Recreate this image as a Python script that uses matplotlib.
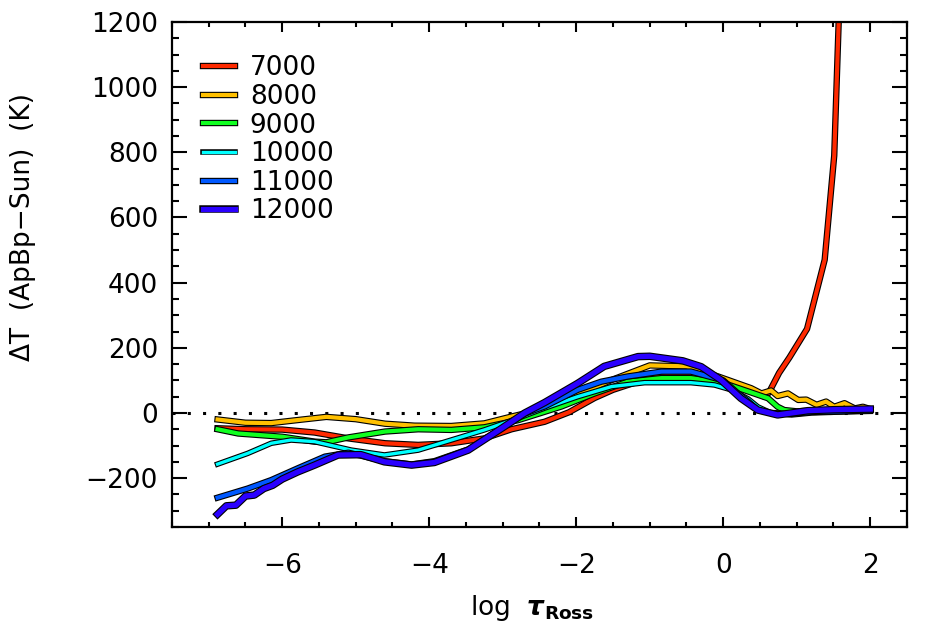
import numpy as np
import matplotlib
matplotlib.use("Agg")
import matplotlib.pyplot as plt
import matplotlib.patheffects as pe
from matplotlib.ticker import MultipleLocator

plt.rcParams['font.family'] = ['DejaVu Sans']
plt.rcParams['mathtext.fontset'] = 'dejavusans'

# T_eff labels of the models
labels = ['7000', '8000', '9000', '10000', '11000', '12000']
colors = ['#ff2a00', '#ffc000', '#10ff20', '#00ffff', '#0058ff', '#2a00ff']
widths = [3.0, 3.0, 3.0, 2.4, 3.0, 3.8]

# log tau_Ross and Delta T (K)
x7000 = [-6.88, -6.5, -6.0, -5.56, -5.1, -4.6, -4.15, -3.7, -3.25, -2.88, -2.43, -2.1,
         -1.75, -1.5, -1.0, -0.5, 0.0, 0.3, 0.56, 0.62, 0.76, 0.9, 1.14, 1.38, 1.51, 1.6]
y7000 = [-47, -50, -51, -60, -78, -93, -98, -93, -78, -50, -27, 2,
         46, 71, 108, 120, 98, 75, 50, 62, 123, 170, 258, 470, 790, 1400]

x8000 = [-6.88, -6.5, -6.15, -5.8, -5.4, -5.0, -4.6, -4.2, -3.7, -3.25, -2.88, -2.6,
         -2.0, -1.5, -1.0, -0.5, -0.07, 0.38, 0.52, 0.65, 0.74, 0.88, 1.02, 1.13,
         1.27, 1.40, 1.51, 1.65, 1.79, 1.90, 2.0]
y8000 = [-20, -30, -31, -22, -12, -19, -33, -39, -40, -32, -11, 4,
         55, 103, 146, 143, 112, 76, 60, 69, 52, 60, 40, 41,
         25, 35, 19, 30, 14, 19, 12]

x9000 = [-6.88, -6.6, -6.0, -5.56, -5.4, -5.1, -4.6, -4.15, -3.7, -3.25, -2.79, -2.2,
         -1.75, -1.3, -0.84, -0.44, 0.0, 0.34, 0.61, 0.74, 0.83, 1.0, 1.3, 1.6, 2.0]
y9000 = [-50, -63, -73, -88, -90, -75, -57, -50, -52, -44, -22, 20,
         60, 96, 107, 107, 92, 66, 45, 19, 9, 5, 8, 6, 10]

x10000 = [-6.88, -6.47, -6.15, -5.88, -5.56, -5.06, -4.61, -4.15, -3.7, -3.25, -2.79,
          -2.43, -1.98, -1.52, -1.07, -0.44, -0.12, 0.11, 0.34, 0.47, 0.65, 0.93,
          1.2, 1.6, 2.0]
y10000 = [-157, -124, -93, -83, -88, -114, -129, -114, -83, -52, -16,
          15, 50, 81, 93, 93, 86, 71, 43, 19, 0, -6,
          0, 3, 5]

x11000 = [-6.88, -6.47, -6.15, -5.79, -5.42, -5.1, -4.61, -4.24, -3.93, -3.47, -3.02,
          -2.7, -2.43, -1.98, -1.66, -1.3, -0.84, -0.44, 0.0, 0.2, 0.34, 0.47, 0.65,
          0.9, 1.2, 1.6, 2.0]
y11000 = [-260, -232, -206, -170, -134, -122, -148, -158, -148, -112, -48,
          -2, 20, 71, 96, 112, 127, 127, 100, 60, 35, 9, 0,
          -3, 3, 5, 8]

x12000 = [-6.88, -6.76, -6.63, -6.5, -6.38, -6.25, -6.13, -6.0, -5.79, -5.56, -5.24,
          -4.93, -4.61, -4.24, -3.93, -3.47, -3.0, -2.7, -2.43, -1.98, -1.62, -1.16,
          -1.0, -0.55, -0.3, -0.03, 0.24, 0.47, 0.74, 0.9, 1.15, 1.5, 2.0]
y12000 = [-311, -285, -283, -255, -252, -232, -222, -203, -181, -160, -129,
          -128, -150, -160, -152, -114, -45, 0, 32, 91, 143, 173,
          174, 160, 142, 101, 45, 9, -6, -1, 7, 10, 12]

xs = [x7000, x8000, x9000, x10000, x11000, x12000]
ys = [y7000, y8000, y9000, y10000, y11000, y12000]

fig = plt.figure(figsize=(9.45, 6.28), dpi=100)
ax = fig.add_subplot(111)
fig.subplots_adjust(left=172/945, right=907/945, bottom=1-527/628, top=1-22/628)

ax.axhline(0, color='black', linestyle=(0, (1, 4)), linewidth=2.2, zorder=1)

for x, y, lab, c, w in zip(xs, ys, labels, colors, widths):
    ax.plot(x, y, color=c, linewidth=w, label=lab, solid_joinstyle='round',
            path_effects=[pe.Stroke(linewidth=w + 1.6, foreground='black'), pe.Normal()],
            zorder=2)

ax.set_xlim(-7.5, 2.5)
ax.set_ylim(-350, 1200)
ax.xaxis.set_major_locator(MultipleLocator(2))
ax.xaxis.set_minor_locator(MultipleLocator(0.5))
ax.yaxis.set_major_locator(MultipleLocator(200))
ax.yaxis.set_minor_locator(MultipleLocator(50))

ax.tick_params(which='both', direction='in', top=True, right=True, width=1.5,
               labelsize=19)
ax.tick_params(axis='y', which='major', length=10.5, pad=10)
ax.tick_params(axis='y', which='minor', length=5)
ax.tick_params(axis='x', which='major', length=7, pad=19)
ax.tick_params(axis='x', which='minor', length=3.6)
for s in ax.spines.values():
    s.set_linewidth(1.6)

ax.set_xlabel(r'log  $\boldsymbol{\tau}_{\mathbf{Ross}}$', fontsize=19)
ax.xaxis.set_label_coords(0.49, -0.13)
ax.set_ylabel('ΔT  (ApBp−Sun)  (K)', fontsize=19)
ax.yaxis.set_label_coords(-0.185, 0.594)

leg = ax.legend(loc='upper left', bbox_to_anchor=(0.028, 0.955), frameon=False,
                fontsize=19, handlelength=1.22, handletextpad=0.55,
                labelspacing=0.1, borderaxespad=0)

fig.savefig('out.png', dpi=100)
